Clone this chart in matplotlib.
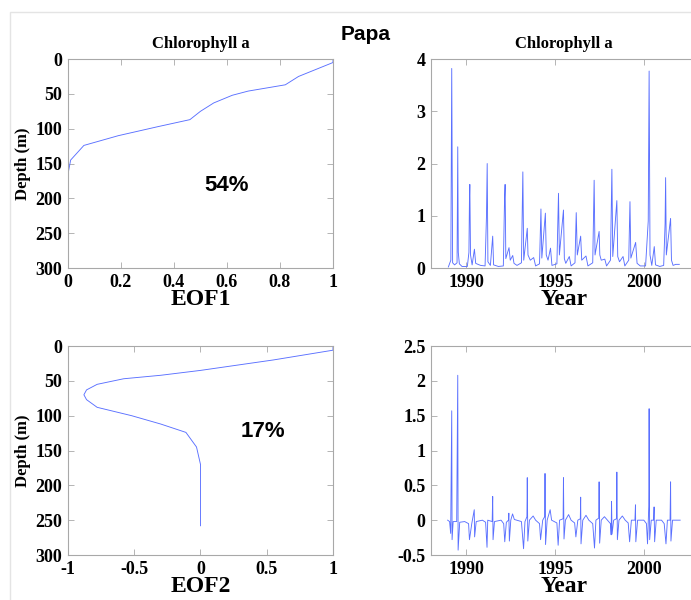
import numpy as np
import matplotlib
matplotlib.use("Agg")
import matplotlib.pyplot as plt
from matplotlib.patches import Rectangle

plt.rcParams['font.family'] = ['Liberation Serif', 'DejaVu Serif']
plt.rcParams['font.weight'] = 'bold'

# EOF profiles (depth in m)
eof1_depth = [0, 5, 25, 37, 46, 52, 63, 75, 87, 97, 110, 124, 145, 165, 200, 258]
eof1_val = [1.0, 1.0, 0.87, 0.82, 0.68, 0.62, 0.55, 0.50, 0.46, 0.34, 0.19, 0.06, 0.01, 0.0, 0.0, 0.0]

eof2_depth = [0, 6, 20, 35, 42, 47, 55, 63, 70, 77, 88, 100, 112, 124, 145, 170, 200, 258]
eof2_val = [1.0, 1.0, 0.55, 0.0, -0.3, -0.58, -0.78, -0.86, -0.88, -0.86, -0.78, -0.52, -0.30, -0.11, -0.03, 0.0, 0.0, 0.0]

# amplitude time series, mode 1
pc1_year = [1988.98, 1989.12, 1989.17, 1989.22, 1989.33, 1989.47, 1989.51, 1989.54, 1989.60, 1989.75,
            1990.05, 1990.14, 1990.17, 1990.19, 1990.23, 1990.32, 1990.45, 1990.52, 1990.65, 1990.80,
            1991.05, 1991.13, 1991.17, 1991.21, 1991.35, 1991.48, 1991.53, 1991.80,
            1992.08, 1992.15, 1992.18, 1992.22, 1992.40, 1992.47, 1992.61, 1992.68, 1992.85,
            1993.10, 1993.18, 1993.23, 1993.43, 1993.47, 1993.60, 1993.79, 1993.90,
            1994.12, 1994.20, 1994.25, 1994.45, 1994.50, 1994.60, 1994.74, 1994.82,
            1995.10, 1995.19, 1995.24, 1995.47, 1995.52, 1995.60, 1995.80, 1995.90,
            1996.12, 1996.19, 1996.25, 1996.44, 1996.50, 1996.74, 1996.85,
            1997.12, 1997.20, 1997.25, 1997.48, 1997.52, 1997.60, 1997.80, 1997.90,
            1998.12, 1998.20, 1998.25, 1998.48, 1998.53, 1998.63, 1998.83, 1998.93,
            1999.15, 1999.22, 1999.27, 1999.54, 1999.62, 1999.80,
            2000.10, 2000.25, 2000.30, 2000.35, 2000.45, 2000.59, 2000.66, 2000.90,
            2001.12, 2001.20, 2001.23, 2001.27, 2001.51, 2001.56, 2001.65, 2001.80, 2002.00]
pc1_val = [0.02, 0.15, 3.82, 0.10, 0.06, 0.10, 2.32, 0.30, 0.08, 0.03,
           0.03, 0.30, 1.32, 1.60, 0.25, 0.06, 0.36, 0.09, 0.07, 0.05,
           0.04, 1.00, 2.00, 0.12, 0.05, 0.61, 0.06, 0.03,
           0.04, 1.35, 1.60, 0.18, 0.39, 0.15, 0.24, 0.09, 0.05,
           0.10, 1.84, 0.15, 0.76, 0.25, 0.15, 0.20, 0.04,
           0.08, 1.13, 0.19, 1.05, 0.25, 0.15, 0.38, 0.05,
           0.08, 1.43, 0.25, 1.11, 0.18, 0.09, 0.22, 0.04,
           0.10, 1.06, 0.25, 0.61, 0.15, 0.23, 0.04,
           0.10, 1.68, 0.25, 0.70, 0.25, 0.15, 0.17, 0.04,
           0.15, 1.89, 0.22, 1.29, 0.22, 0.12, 0.22, 0.04,
           0.15, 1.27, 0.19, 0.49, 0.09, 0.04,
           0.04, 0.90, 3.77, 0.25, 0.05, 0.41, 0.06, 0.03,
           0.05, 0.85, 1.73, 0.25, 0.95, 0.15, 0.05, 0.07, 0.07]

# amplitude time series, mode 2
pc2_year = [1988.94, 1989.05, 1989.11, 1989.17, 1989.19, 1989.25, 1989.45, 1989.51, 1989.53, 1989.62, 1989.90,
            1990.12, 1990.17, 1990.30, 1990.44, 1990.46, 1990.55, 1990.90,
            1991.08, 1991.16, 1991.20, 1991.45, 1991.48, 1991.50, 1991.58, 1991.95,
            1992.10, 1992.16, 1992.25, 1992.37, 1992.39, 1992.42, 1992.50, 1992.60, 1992.70,
            1993.10, 1993.22, 1993.30, 1993.41, 1993.43, 1993.46, 1993.55, 1993.76, 1993.90,
            1994.12, 1994.18, 1994.30, 1994.41, 1994.43, 1994.46, 1994.55, 1994.72, 1994.80,
            1995.10, 1995.17, 1995.25, 1995.45, 1995.47, 1995.50, 1995.58, 1995.76, 1995.90,
            1996.10, 1996.17, 1996.28, 1996.42, 1996.44, 1996.46, 1996.56, 1996.74, 1996.90,
            1997.12, 1997.22, 1997.30, 1997.46, 1997.48, 1997.51, 1997.60, 1997.78, 1997.95,
            1998.12, 1998.16, 1998.18, 1998.21, 1998.30, 1998.46, 1998.48, 1998.51, 1998.60, 1998.79, 1998.95,
            1999.12, 1999.20, 1999.30, 1999.50, 1999.53, 1999.55, 1999.65,
            2000.00, 2000.15, 2000.21, 2000.28, 2000.30, 2000.33, 2000.42, 2000.55, 2000.58, 2000.61, 2000.70,
            2001.00, 2001.15, 2001.25, 2001.33, 2001.48, 2001.51, 2001.53, 2001.62, 2001.76, 2002.05]
pc2_val = [0.0, -0.02, -0.19, 1.57, -0.28, -0.02, -0.02, 2.08, -0.43, -0.03, -0.02,
           -0.05, -0.28, -0.05, 0.15, -0.24, -0.02, 0.0,
           -0.03, -0.39, 0.0, -0.02, 0.34, -0.28, -0.02, 0.0,
           -0.05, -0.31, -0.03, 0.0, 0.10, -0.30, 0.0, 0.09, 0.01,
           -0.02, -0.41, -0.02, 0.05, 0.61, -0.30, 0.0, 0.06, 0.0,
           -0.05, -0.28, 0.0, 0.05, 0.67, -0.35, 0.0, 0.15, 0.0,
           -0.04, -0.36, 0.0, 0.02, 0.61, -0.27, 0.0, 0.08, 0.0,
           -0.04, -0.24, 0.0, 0.02, 0.33, -0.34, 0.0, 0.07, 0.0,
           -0.05, -0.40, 0.0, 0.03, 0.55, -0.33, 0.0, 0.05, 0.0,
           -0.05, -0.21, 0.27, -0.20, 0.0, 0.02, 0.69, -0.28, 0.0, 0.06, 0.0,
           -0.04, -0.31, 0.0, 0.0, 0.22, -0.31, 0.0,
           0.0, -0.05, -0.34, 0.20, 1.60, -0.28, 0.0, 0.0, 0.19, -0.31, 0.0,
           0.0, -0.05, -0.34, 0.0, 0.0, 0.55, -0.30, 0.0, 0.0, 0.0]

line_c = '#5a70ff'
spine_c = '#a8a8a8'

fig = plt.figure(figsize=(6.91, 6.0), dpi=100)

# thin frame of the screenshot
fig.patches.append(Rectangle((10 / 691, -0.05), 1.0, 0.98 + 0.05, transform=fig.transFigure,
                             fill=False, edgecolor='#e4e4e4', lw=1.0))

ax1 = fig.add_axes([0.0984, 0.5533, 0.3835, 0.3483])
ax2 = fig.add_axes([0.6237, 0.5533, 0.385, 0.3483])
ax3 = fig.add_axes([0.0984, 0.075, 0.3835, 0.3483])
ax4 = fig.add_axes([0.6237, 0.075, 0.385, 0.3483])


def style(ax):
    for s in ax.spines.values():
        s.set_color(spine_c)
        s.set_linewidth(0.8)
    ax.tick_params(direction='in', top=True, right=True, length=4, width=0.6,
                   color=spine_c, labelsize=13, pad=4)
    for lab in ax.get_xticklabels() + ax.get_yticklabels():
        lab.set_fontweight('bold')


ax1.plot(eof1_val, eof1_depth, color=line_c, lw=0.65)
ax1.set_xlim(0, 1)
ax1.set_ylim(300, 0)
ax1.set_xticks([0, 0.2, 0.4, 0.6, 0.8, 1])
ax1.set_xticklabels(['0', '0.2', '0.4', '0.6', '0.8', '1'])
ax1.set_yticks([0, 50, 100, 150, 200, 250, 300])
ax1.set_title('Chlorophyll a', fontsize=12, fontweight='bold', pad=8)
ax1.set_xlabel('EOF1', fontsize=17, fontweight='bold', labelpad=-1)
ax1.set_ylabel('Depth (m)', fontsize=12, fontweight='bold', labelpad=3)
ax1.text(0.6, 181, '54%', family=['Liberation Sans', 'DejaVu Sans'], fontsize=16,
         fontweight='bold', ha='center', va='center')
style(ax1)

ax2.plot(pc1_year, pc1_val, color=line_c, lw=0.65)
ax2.set_xlim(1988, 2003)
ax2.set_ylim(0, 4)
ax2.set_xticks([1990, 1995, 2000])
ax2.set_yticks([0, 1, 2, 3, 4])
ax2.set_title('Chlorophyll a', fontsize=12, fontweight='bold', pad=8)
ax2.set_xlabel('Year', fontsize=17, fontweight='bold', labelpad=-1)
style(ax2)

ax3.plot(eof2_val, eof2_depth, color=line_c, lw=0.65)
ax3.set_xlim(-1, 1)
ax3.set_ylim(300, 0)
ax3.set_xticks([-1, -0.5, 0, 0.5, 1])
ax3.set_xticklabels(['-1', '-0.5', '0', '0.5', '1'])
ax3.set_yticks([0, 50, 100, 150, 200, 250, 300])
ax3.set_xlabel('EOF2', fontsize=17, fontweight='bold', labelpad=-1)
ax3.set_ylabel('Depth (m)', fontsize=12, fontweight='bold', labelpad=3)
ax3.text(0.47, 123, '17%', family=['Liberation Sans', 'DejaVu Sans'], fontsize=16,
         fontweight='bold', ha='center', va='center')
style(ax3)

ax4.plot(pc2_year, pc2_val, color=line_c, lw=0.65)
ax4.set_xlim(1988, 2003)
ax4.set_ylim(-0.5, 2.5)
ax4.set_xticks([1990, 1995, 2000])
ax4.set_yticks([-0.5, 0, 0.5, 1, 1.5, 2, 2.5])
ax4.set_yticklabels(['-0.5', '0', '0.5', '1', '1.5', '2', '2.5'])
ax4.set_xlabel('Year', fontsize=17, fontweight='bold', labelpad=-1)
style(ax4)

fig.text(366 / 691, 1 - 35 / 600, 'Papa', family=['Liberation Sans', 'DejaVu Sans'],
         fontsize=15, fontweight='bold', ha='center', va='center')

fig.savefig('out.png', dpi=100)
